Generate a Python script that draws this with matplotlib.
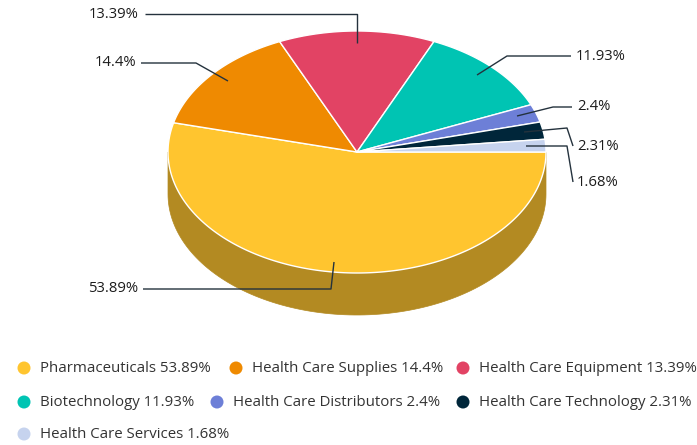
import numpy as np
import matplotlib
matplotlib.use("Agg")
import matplotlib.pyplot as plt
from matplotlib.patches import Polygon, Circle

plt.rcParams['font.family'] = ['Open Sans', 'DejaVu Sans']

categories = ["Pharmaceuticals", "Health Care Supplies", "Health Care Equipment",
              "Biotechnology", "Health Care Distributors", "Health Care Technology",
              "Health Care Services"]
values = [53.89, 14.4, 13.39, 11.93, 2.4, 2.31, 1.68]
value_labels = ["53.89%", "14.4%", "13.39%", "11.93%", "2.4%", "2.31%", "1.68%"]
colors = ["#ffc52f", "#ef8a01", "#e24364", "#00c4b3", "#6d7fd7", "#00263a", "#c6d3ee"]
side_colors = ["#b38a22"]

W, H = 697, 445
fig = plt.figure(figsize=(W / 100, H / 100), dpi=100)
ax = fig.add_axes([0, 0, 1, 1])
ax.set_xlim(0, W)
ax.set_ylim(H, 0)
ax.axis("off")

# ellipse geometry of the tilted pie (pixel units)
cx, cy = 357, 152
rx, ry = 189, 121
depth = 42

def pt(theta_deg, dz=0.0, r=1.0):
    t = np.radians(theta_deg)
    return cx + r * rx * np.cos(t), cy + r * ry * np.sin(t) + dz

total = sum(values)
angles = np.cumsum([0] + [v / total * 360 for v in values])

# front side wall (only the lower half of the rim is visible)
for i in range(len(values)):
    a0, a1 = angles[i], angles[i + 1]
    lo, hi = max(a0, 0), min(a1, 180)
    if hi <= lo:
        continue
    ts = np.linspace(lo, hi, 120)
    top = [pt(t) for t in ts]
    bot = [pt(t, depth) for t in ts[::-1]]
    col = side_colors[0] if i == 0 else colors[i]
    ax.add_patch(Polygon(top + bot, closed=True, facecolor=col,
                         edgecolor=col, lw=0.5, zorder=1))

# top face wedges
for i in range(len(values)):
    a0, a1 = angles[i], angles[i + 1]
    ts = np.linspace(a0, a1, max(int((a1 - a0) * 2), 4))
    verts = [(cx, cy)] + [pt(t) for t in ts]
    ax.add_patch(Polygon(verts, closed=True, facecolor=colors[i],
                         edgecolor="white", lw=1.0, joinstyle="round", zorder=2))

# data labels with connectors
line_col = "#24323d"
label_specs = [
    # (text x, text y, ha, connector path)
    (138, 289, "right", [(143, 289), (331, 289), (334, 262)]),
    (136, 63, "right", [(141, 63), (196, 63), (228, 81)]),
    (139, 14, "right", [(145, 14), (357, 14), (357, 43)]),
    (576, 56, "left", [(571, 56), (507, 56), (477, 75)]),
    (577, 107, "left", [(572, 107), (553, 107), (517, 116)]),
    (577, 146, "left", [(573, 146), (567, 128), (524, 132)]),
    (577, 183, "left", [(573, 182), (567, 146), (526, 146)]),
]
for (tx, ty, ha, path), lab in zip(label_specs, value_labels):
    xs, ys = zip(*path)
    ax.plot(xs, ys, color=line_col, lw=1.0, zorder=3, solid_capstyle="butt")
    ax.text(tx, ty, lab, ha=ha, va="center", fontsize=10.7, color="#1c1c1c", zorder=4)

# legend
legend_pos = [
    (24, 368), (236, 368), (463, 368),
    (24, 402), (217, 402), (463, 402),
    (24, 434),
]
for (lx, ly), name, val, col in zip(legend_pos, categories, value_labels, colors):
    ax.add_patch(Circle((lx, ly), 6.5, facecolor=col, edgecolor="none", zorder=3))
    ax.text(lx + 16, ly, f"{name} {val}", ha="left", va="center",
            fontsize=10.8, color="#333333", zorder=4)

fig.savefig("out.png", dpi=100)
